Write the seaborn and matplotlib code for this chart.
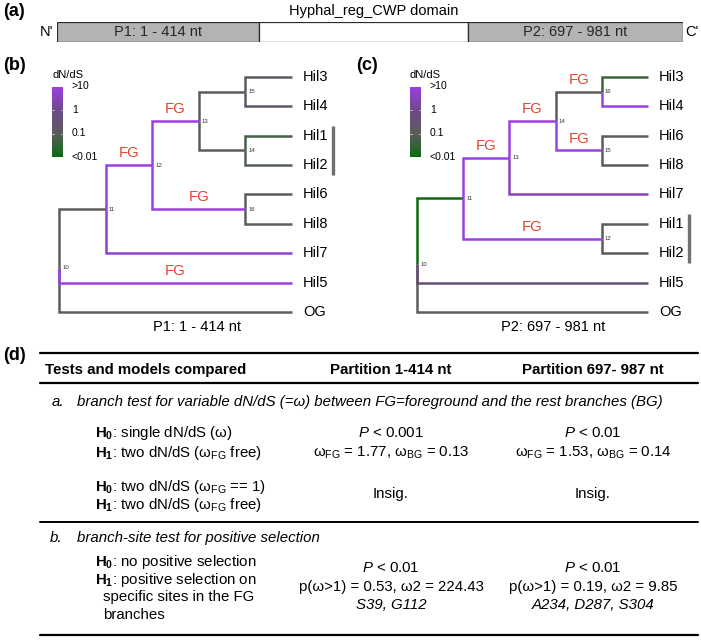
import numpy as np
import pandas as pd
import matplotlib
matplotlib.use("Agg")
import matplotlib.pyplot as plt
import seaborn as sns
from matplotlib.colors import LinearSegmentedColormap, Normalize
from matplotlib.lines import Line2D

sns.set_theme(style="white")
plt.rcParams["font.family"] = ["Liberation Sans", "DejaVu Sans"]
plt.rcParams["mathtext.fontset"] = "custom"
plt.rcParams["mathtext.rm"] = "Liberation Sans"
plt.rcParams["mathtext.it"] = "Liberation Sans:italic"
plt.rcParams["mathtext.bf"] = "Liberation Sans:bold"
plt.rcParams["mathtext.sf"] = "Liberation Sans"

# ------------------------------------------------------------------ data
domain_title = "Hyphal_reg_CWP domain"
domain_labels = ["P1: 1 - 414 nt", "", "P2: 697 - 981 nt"]
domain_widths = [202, 209, 215]          # schematic segment widths
domain_colors = ["#b3b3b3", "#ffffff", "#b3b3b3"]

# tree (b): partition P1
tips_b = ["Hil3", "Hil4", "Hil1", "Hil2", "Hil6", "Hil8", "Hil7", "Hil5", "OG"]
parent_b = {"11": "10", "Hil5": "10", "OG": "10",
            "12": "11", "Hil7": "11",
            "13": "12", "16": "12",
            "15": "13", "14": "13",
            "Hil3": "15", "Hil4": "15",
            "Hil1": "14", "Hil2": "14",
            "Hil6": "16", "Hil8": "16"}
omega_b = {"11": 0.1, "Hil5": 10, "OG": 0.1, "12": 10, "Hil7": 6,
           "13": 10, "16": 10, "15": 0.12, "14": 0.1,
           "Hil3": 0.15, "Hil4": 0.2, "Hil1": 0.05, "Hil2": 0.08,
           "Hil6": 0.1, "Hil8": 0.1}
fg_b = ["12", "13", "16", "Hil5"]
caption_b = "P1: 1 - 414 nt"

# tree (c): partition P2
tips_c = ["Hil3", "Hil4", "Hil6", "Hil8", "Hil7", "Hil1", "Hil2", "Hil5", "OG"]
parent_c = {"11": "10", "Hil5": "10", "OG": "10",
            "13": "11", "12": "11",
            "14": "13", "Hil7": "13",
            "16": "14", "15": "14",
            "Hil3": "16", "Hil4": "16",
            "Hil6": "15", "Hil8": "15",
            "Hil1": "12", "Hil2": "12"}
omega_c = {"11": 0.01, "Hil5": 0.4, "OG": 0.1, "13": 10, "12": 10,
           "14": 10, "Hil7": 4, "16": 0.1, "15": 10,
           "Hil3": 0.04, "Hil4": 10, "Hil6": 0.1, "Hil8": 0.1,
           "Hil1": 0.1, "Hil2": 0.1}
fg_c = ["13", "14", "16", "15", "12"]
caption_c = "P2: 697 - 981 nt"

clade = ["Hil1", "Hil2"]
legend_title = "dN/dS"
legend_ticks = [">10", "1", "0.1", "<0.01"]

# table
tbl_header = ["Tests and models compared", "Partition 1-414 nt", "Partition 697- 987 nt"]
sec_a = ["a.", "branch test for variable dN/dS (=ω) between FG=foreground and the rest branches (BG)"]
sec_b = ["b.", "branch-site test for positive selection"]
a1_models = [r"$\mathbf{H_0}$: single dN/dS (ω)", r"$\mathbf{H_1}$: two dN/dS (ω$_{\rm FG}$ free)"]
a1_p1 = [r"$P$ < 0.001", r"ω$_{\rm FG}$ = 1.77, ω$_{\rm BG}$ = 0.13"]
a1_p2 = [r"$P$ < 0.01", r"ω$_{\rm FG}$ = 1.53, ω$_{\rm BG}$ = 0.14"]
a2_models = [r"$\mathbf{H_0}$: two dN/dS (ω$_{\rm FG}$ == 1)", r"$\mathbf{H_1}$: two dN/dS (ω$_{\rm FG}$ free)"]
a2_p1 = "Insig."
a2_p2 = "Insig."
b_models = [r"$\mathbf{H_0}$: no positive selection", r"$\mathbf{H_1}$: positive selection on",
            "specific sites in the FG", "branches"]
b_p1 = [r"$P$ < 0.01", "p(ω>1) = 0.53, ω2 = 224.43", "S39, G112"]
b_p2 = [r"$P$ < 0.01", "p(ω>1) = 0.19, ω2 = 9.85", "A234, D287, S304"]

# ------------------------------------------------------------------ figure
W, H = 701, 641
fig = plt.figure(figsize=(W / 100, H / 100), dpi=100)
fig.patch.set_facecolor("white")


def fx(x):
    return x / W


def fy(y):
    return 1 - y / H


def ftext(x, y, s, **kw):
    kw.setdefault("va", "center")
    kw.setdefault("color", "black")
    return fig.text(fx(x), fy(y), s, **kw)


def hrule(y, x0, x1, lw=1.5):
    fig.add_artist(Line2D([fx(x0), fx(x1)], [fy(y), fy(y)], color="black", lw=lw))


cmap = LinearSegmentedColormap.from_list(
    "dnds", [(0.0, "#0c6a10"), (1 / 3, "#5c5c5c"), (2 / 3, "#6c4a88"), (1.0, "#9b3ee2")])
norm = Normalize(-2, 1)

# panel labels
ftext(3, 12, "(a)", fontsize=13, fontweight="bold")
ftext(3, 65, "(b)", fontsize=13, fontweight="bold")
ftext(356, 65, "(c)", fontsize=13, fontweight="bold")
ftext(3, 355, "(d)", fontsize=13, fontweight="bold")

# ------------------------------------------------------------------ (a) domain bar
bx0, bx1, by0, by1 = 57, 683, 22, 42
axd = fig.add_axes([fx(bx0), fy(by1), fx(bx1 - bx0), (by1 - by0) / H])
lefts = np.concatenate([[0], np.cumsum(domain_widths)[:-1]])
axd.barh([0] * 3, domain_widths, left=lefts, height=1.0, color=domain_colors,
         edgecolor="#2b2b2b", linewidth=0.9)
for l, w, lab in zip(lefts, domain_widths, domain_labels):
    axd.text(l + w / 2, 0, lab, ha="center", va="center", fontsize=10.5)
axd.set_xlim(0, sum(domain_widths))
axd.set_ylim(-0.5, 0.5)
axd.axis("off")
ftext(374, 11, domain_title, ha="center", fontsize=10.5)
ftext(bx0 - 4, 32, "N'", ha="right", fontsize=10.5)
ftext(bx1 + 2, 32, "C'", ha="left", fontsize=10.5)


# ------------------------------------------------------------------ trees
def layout(parent, tips):
    children = {}
    for c, p in parent.items():
        children.setdefault(p, []).append(c)
    nodes = set(parent) | set(parent.values())
    root = [n for n in nodes if n not in parent][0]
    n = len(tips)
    y = {t: float(n - i) for i, t in enumerate(tips)}
    height = {}

    def h(node):
        if node not in children:
            height[node] = 0
            return 0
        v = 1 + max(h(c) for c in children[node])
        height[node] = v
        return v

    Ht = h(root)

    def gy(node):
        if node in y:
            return y[node]
        v = float(np.mean([gy(c) for c in children[node]]))
        y[node] = v
        return v

    gy(root)
    x = {nd: float(Ht - height[nd]) for nd in nodes}
    return x, y, children, root, Ht


def draw_tree(parent, tips, omega, fg, x0, sx, caption, cap_x, cbar_x):
    x, y, children, root, Ht = layout(parent, tips)
    y1, sy = 312.0, 29.375
    xmin, xmax, ymin, ymax = -0.4, Ht + 1.6, 0.4, len(tips) + 0.6
    ax = fig.add_axes([fx(x0 + xmin * sx), fy(y1 - (ymin - 1) * sy),
                       (xmax - xmin) * sx / W, (ymax - ymin) * sy / H])
    rows = []
    for c, p in parent.items():
        lw_ = np.log10(omega[c])
        for px_, py_ in [(x[p], y[p]), (x[p], y[c]), (x[c], y[c])]:
            rows.append(dict(branch=c, x=px_, y=py_, logw=lw_))
    df = pd.DataFrame(rows)
    sns.lineplot(data=df, x="x", y="y", units="branch", estimator=None, sort=False,
                 hue="logw", palette=cmap, hue_norm=norm, legend=False,
                 linewidth=1.8, ax=ax)
    for line in ax.get_lines():
        line.set_solid_capstyle("butt")
        line.set_solid_joinstyle("miter")
    for t in tips:
        ax.annotate(t, (x[t], y[t]), xytext=(8, 0), textcoords="offset points",
                    ha="left", va="center", fontsize=10.5, color="black")
    for nd in children:
        ax.annotate(nd, (x[nd], y[nd]), xytext=(2.2, 0), textcoords="offset points",
                    ha="left", va="center", fontsize=4.3, color="#333333")
    for c in fg:
        p = parent[c]
        ax.annotate("FG", ((x[p] + x[c]) / 2, y[c]), xytext=(0, 3.5),
                    textcoords="offset points", ha="center", va="bottom",
                    fontsize=10.8, color="#e4452f")
    ya, yb = y[clade[0]], y[clade[1]]
    ax.plot([Ht + 0.88, Ht + 0.88], [ya + 0.33, yb - 0.33], color="#707070",
            lw=2.4, solid_capstyle="butt", clip_on=False)
    ax.set_xlim(xmin, xmax)
    ax.set_ylim(ymin, ymax)
    ax.axis("off")
    ftext(cap_x, 327, caption, ha="center", fontsize=10.5)
    # dN/dS colour legend
    cax = fig.add_axes([fx(cbar_x), fy(157), 11 / W, 70 / H])
    grad = np.linspace(1, -2, 120).reshape(-1, 1)
    sns.heatmap(grad, cmap=cmap, vmin=-2, vmax=1, cbar=False, ax=cax,
                xticklabels=False, yticklabels=False)
    for k in range(1, 3):
        yy = k * 120 / 3
        cax.plot([0, 0.22], [yy, yy], color="white", lw=0.6, alpha=0.7)
        cax.plot([0.78, 1], [yy, yy], color="white", lw=0.6, alpha=0.7)
    cax.axis("off")
    ftext(cbar_x, 75, legend_title, ha="left", fontsize=8)
    for k, lab in enumerate(legend_ticks):
        ftext(cbar_x + 20, 86 + k * 23.7, lab, ha="left", fontsize=7.5)


draw_tree(parent_b, tips_b, omega_b, fg_b, 59, 46.6, caption_b, 197, 52)
draw_tree(parent_c, tips_c, omega_c, fg_c, 417, 46.2, caption_c, 553, 410)

# ------------------------------------------------------------------ (d) table
fs = 10.8
c1, c2 = 391, 593
hrule(353, 40, 698, 1.6)
ftext(45, 370, tbl_header[0], ha="left", fontsize=fs, fontweight="bold")
ftext(c1, 370, tbl_header[1], ha="center", fontsize=fs, fontweight="bold")
ftext(c2, 370, tbl_header[2], ha="center", fontsize=fs, fontweight="bold")
hrule(383, 40, 698, 1.6)

ftext(52, 402, sec_a[0], ha="left", fontsize=fs, style="italic")
ftext(77, 402, sec_a[1], ha="left", fontsize=fs, style="italic")
for yy, m, v1, v2 in zip([433, 453], a1_models, a1_p1, a1_p2):
    ftext(95, yy, m, ha="left", fontsize=fs)
    ftext(c1, yy, v1, ha="center", fontsize=fs)
    ftext(c2, yy, v2, ha="center", fontsize=fs)
for yy, m in zip([487, 505], a2_models):
    ftext(95, yy, m, ha="left", fontsize=fs)
ftext(c1, 494, a2_p1, ha="center", fontsize=fs)
ftext(c2, 494, a2_p2, ha="center", fontsize=fs)
hrule(522, 40, 698, 1.4)

ftext(50, 538, sec_b[0], ha="left", fontsize=fs, style="italic")
ftext(77, 538, sec_b[1], ha="left", fontsize=fs, style="italic")
for yy, m, xx in zip([562, 580, 597, 615], b_models, [95, 95, 103, 103]):
    ftext(xx, yy, m, ha="left", fontsize=fs)
for yy, v1, v2, st in zip([568, 587, 605], b_p1, b_p2, ["normal", "normal", "italic"]):
    ftext(c1, yy, v1, ha="center", fontsize=fs, style=st)
    ftext(c2, yy, v2, ha="center", fontsize=fs, style=st)
hrule(635, 40, 698, 1.6)

fig.savefig("out.png", dpi=100, facecolor="white")
